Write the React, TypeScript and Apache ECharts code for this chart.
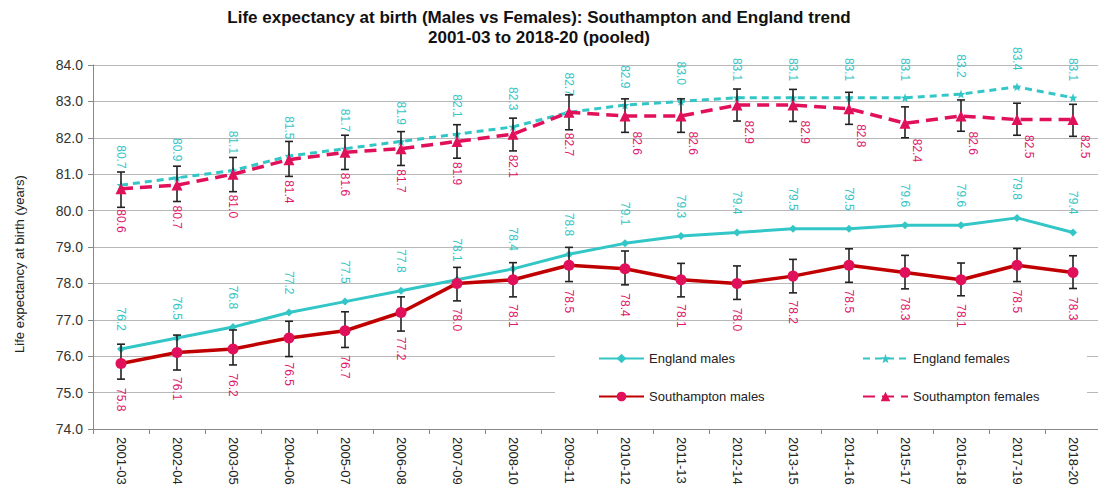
import React, { useEffect, useRef } from "react";
import * as echarts from "echarts";

const categories = [
  "2001-03", "2002-04", "2003-05", "2004-06", "2005-07", "2006-08", "2007-09", "2008-10", "2009-11",
  "2010-12", "2011-13", "2012-14", "2013-15", "2014-16", "2015-17", "2016-18", "2017-19", "2018-20",
];

const englandMales = [76.2, 76.5, 76.8, 77.2, 77.5, 77.8, 78.1, 78.4, 78.8, 79.1, 79.3, 79.4, 79.5, 79.5, 79.6, 79.6, 79.8, 79.4];
const englandFemales = [80.7, 80.9, 81.1, 81.5, 81.7, 81.9, 82.1, 82.3, 82.7, 82.9, 83.0, 83.1, 83.1, 83.1, 83.1, 83.2, 83.4, 83.1];
const sotonMales = [75.8, 76.1, 76.2, 76.5, 76.7, 77.2, 78.0, 78.1, 78.5, 78.4, 78.1, 78.0, 78.2, 78.5, 78.3, 78.1, 78.5, 78.3];
const sotonFemales = [80.6, 80.7, 81.0, 81.4, 81.6, 81.7, 81.9, 82.1, 82.7, 82.6, 82.6, 82.9, 82.9, 82.8, 82.4, 82.6, 82.5, 82.5];

const sotonMalesLow = [75.37, 75.62, 75.76, 75.99, 76.24, 76.69, 77.52, 77.63, 78.05, 77.96, 77.63, 77.56, 77.74, 78.03, 77.85, 77.66, 78.05, 77.86];
const sotonMalesHigh = [76.33, 76.58, 76.72, 76.96, 77.22, 77.63, 78.44, 78.57, 78.99, 78.89, 78.55, 78.48, 78.66, 78.95, 78.77, 78.56, 78.96, 78.76];
const sotonFemalesLow = [80.09, 80.25, 80.52, 80.94, 81.13, 81.24, 81.44, 81.64, 82.22, 82.15, 82.15, 82.46, 82.45, 82.37, 82.0, 82.18, 82.07, 82.04];
const sotonFemalesHigh = [81.06, 81.22, 81.46, 81.9, 82.07, 82.17, 82.36, 82.54, 83.18, 83.07, 83.07, 83.34, 83.33, 83.25, 82.85, 83.04, 82.95, 82.92];

const TITLE_1 = "Life expectancy at birth (Males vs Females): Southampton and England trend";
const TITLE_2 = "2001-03 to 2018-20 (pooled)";
const Y_NAME = "Life expectancy at birth (years)";

const FONT = "'Liberation Sans', Arial, sans-serif";
const TEAL = "#33C6C6";
const CRIMSON = "#E0105A";
const DARKRED = "#C00000";
const LABEL_PINK = "#E0196B";

export default function App() {
  const ref = useRef<HTMLDivElement>(null);

  useEffect(() => {
    if (!ref.current) return;
    const chart = echarts.init(ref.current, undefined, { renderer: "svg" });

    const errorBar = (low: number[], high: number[], name: string) => ({
      type: "custom",
      name,
      z: 2.5,
      silent: true,
      data: low.map((l, i) => [i, l, high[i]]),
      encode: { x: 0, y: [1, 2] },
      renderItem: (params: any, api: any) => {
        const x = api.value(0);
        const lo = api.coord([x, api.value(1)]);
        const hi = api.coord([x, api.value(2)]);
        const w = 4;
        const style = { stroke: "#222", lineWidth: 1.6 };
        return {
          type: "group",
          children: [
            { type: "line", shape: { x1: lo[0], y1: lo[1], x2: hi[0], y2: hi[1] }, style },
            { type: "line", shape: { x1: lo[0] - w, y1: lo[1], x2: lo[0] + w, y2: lo[1] }, style },
            { type: "line", shape: { x1: hi[0] - w, y1: hi[1], x2: hi[0] + w, y2: hi[1] }, style },
          ],
        };
      },
    });

    const labelTop = (color: string, distance: number) => ({
      show: true,
      position: "top",
      rotate: -90,
      align: "right",
      verticalAlign: "middle",
      distance,
      color,
      fontSize: 12,
      fontFamily: FONT,
      formatter: (p: any) => Number(p.value).toFixed(1),
    });
    const labelBottom = (color: string, distance: number) => ({
      show: true,
      position: "bottom",
      rotate: -90,
      align: "left",
      verticalAlign: "middle",
      distance,
      color,
      fontSize: 12,
      fontFamily: FONT,
      formatter: (p: any) => Number(p.value).toFixed(1),
    });

    const sfData = sotonFemales.map((v, i) =>
      i >= 9 ? { value: v, label: { offset: [-5, -12] } } : v
    );

    const legendBase = {
      padding: 0,
      itemWidth: 45,
      itemHeight: 12,
      textStyle: { fontSize: 13, color: "#222", fontFamily: FONT },
      selectedMode: false,
    };

    chart.setOption({
      animation: false,
      backgroundColor: "#fff",
      textStyle: { fontFamily: FONT },
      grid: { left: 93, right: 5, top: 65, bottom: 68 },
      legend: [
        { ...legendBase, data: ["England males"], left: 598, top: 352 },
        { ...legendBase, data: ["England females"], left: 862, top: 352 },
        { ...legendBase, data: ["Southampton males"], left: 598, top: 390 },
        { ...legendBase, data: ["Southampton females"], left: 862, top: 390 },
      ],
      graphic: [
        {
          type: "rect",
          z: 1,
          shape: { x: 555, y: 336, width: 532, height: 84 },
          style: { fill: "#fff" },
        },
        {
          type: "text",
          x: 539,
          y: 17,
          style: {
            text: TITLE_1,
            align: "center",
            verticalAlign: "middle",
            font: `bold 17px ${FONT}`,
            fill: "#111",
          },
        },
        {
          type: "text",
          x: 539,
          y: 37,
          style: {
            text: TITLE_2,
            align: "center",
            verticalAlign: "middle",
            font: `bold 17px ${FONT}`,
            fill: "#111",
          },
        },
        {
          type: "text",
          x: 19,
          y: 264,
          rotation: Math.PI / 2,
          style: {
            text: Y_NAME,
            align: "center",
            verticalAlign: "middle",
            font: `13px ${FONT}`,
            fill: "#222",
          },
        },
      ],
      xAxis: {
        type: "category",
        data: categories,
        boundaryGap: true,
        axisLine: { lineStyle: { color: "#888", width: 1 } },
        axisTick: { show: true, length: 5, lineStyle: { color: "#888" } },
        axisLabel: {
          rotate: -90,
          color: "#222",
          fontSize: 13,
          fontFamily: FONT,
          margin: 8,
          interval: 0,
        },
      },
      yAxis: {
        type: "value",
        min: 74,
        max: 84,
        interval: 1,
        axisLine: { show: true, lineStyle: { color: "#888" } },
        axisTick: { show: true, length: 5, lineStyle: { color: "#888" } },
        axisLabel: {
          color: "#333",
          fontSize: 14,
          fontFamily: FONT,
          margin: 10,
          formatter: (v: number) => v.toFixed(1),
        },
        splitLine: { lineStyle: { color: "#B8B8B8", width: 1 } },
      },
      series: [
        {
          name: "England males",
          type: "line",
          z: 2,
          data: englandMales,
          symbol: "diamond",
          symbolSize: 8,
          itemStyle: { color: TEAL },
          lineStyle: { color: TEAL, width: 3 },
          label: labelTop(TEAL, 14),
        },
        {
          name: "England females",
          type: "line",
          z: 2,
          data: englandFemales,
          symbol: "path://M0,-10 L2.35,-3.24 L9.51,-3.09 L3.8,1.24 L5.88,8.09 L0,4 L-5.88,8.09 L-3.8,1.24 L-9.51,-3.09 L-2.35,-3.24 Z",
          symbolSize: 9,
          itemStyle: { color: TEAL },
          lineStyle: { color: TEAL, width: 3, type: [7, 5] },
          label: labelTop(TEAL, 12),
        },
        errorBar(sotonMalesLow, sotonMalesHigh, "sm-ci"),
        errorBar(sotonFemalesLow, sotonFemalesHigh, "sf-ci"),
        {
          name: "Southampton males",
          type: "line",
          z: 3,
          data: sotonMales,
          symbol: "circle",
          symbolSize: 11,
          itemStyle: { color: CRIMSON },
          lineStyle: { color: DARKRED, width: 3.5 },
          label: labelBottom(LABEL_PINK, 19),
        },
        {
          name: "Southampton females",
          type: "line",
          z: 3,
          data: sfData,
          symbol: "triangle",
          symbolSize: 11,
          itemStyle: { color: CRIMSON },
          lineStyle: { color: CRIMSON, width: 3.5, type: [12, 7] },
          label: labelBottom(LABEL_PINK, 15),
        },
      ],
    });

    return () => chart.dispose();
  }, []);

  return <div ref={ref} style={{ width: 1106, height: 497, margin: -8 }} />;
}
